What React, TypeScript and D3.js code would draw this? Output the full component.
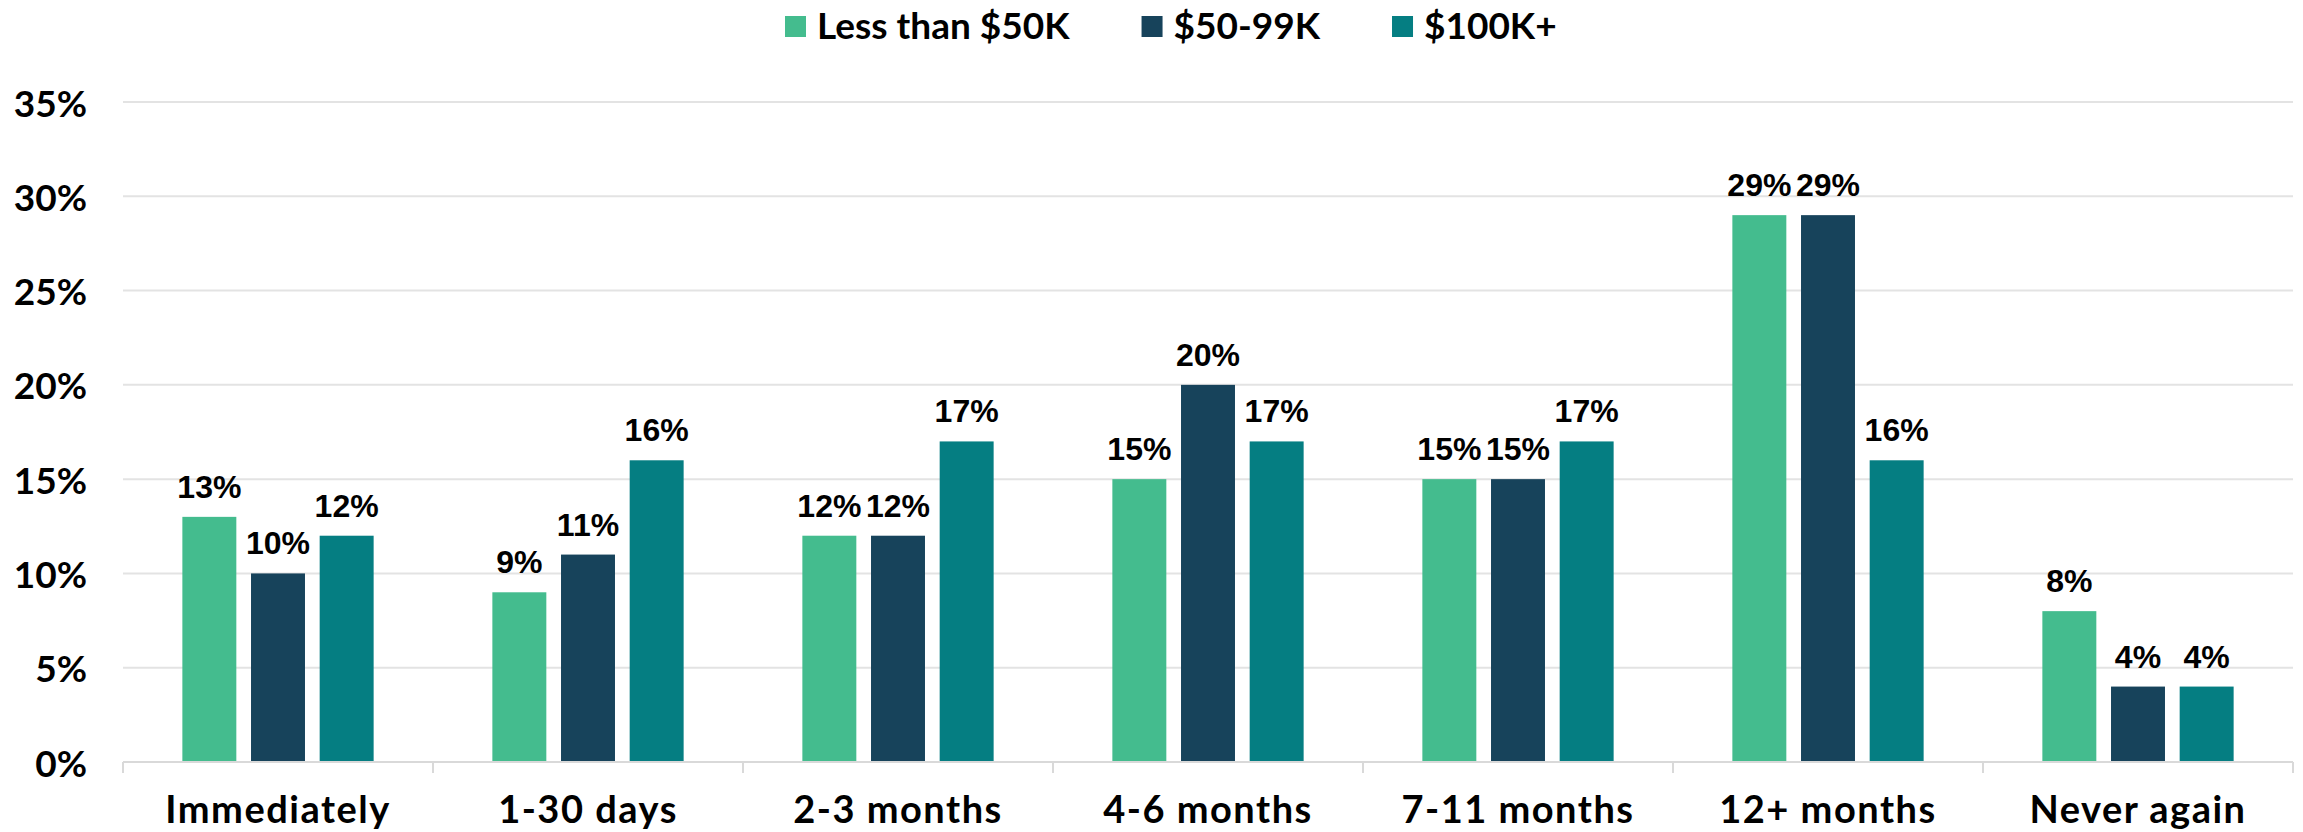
import React, { useRef, useEffect } from 'react';
import * as d3 from 'd3';

const categories = ['Immediately', '1-30 days', '2-3 months', '4-6 months', '7-11 months', '12+ months', 'Never again'];
const seriesNames = ['Less than $50K', '$50-99K', '$100K+'];
const seriesColors = ['#44BC8E', '#17435B', '#057E82'];
const under50 = [13, 9, 12, 15, 15, 29, 8];
const from50to99 = [10, 11, 12, 20, 15, 29, 4];
const over100 = [12, 16, 17, 17, 17, 16, 4];
const yTicks = [0, 5, 10, 15, 20, 25, 30, 35];

const WIDTH = 2303;
const HEIGHT = 832;
const AXIS_FONT = 'Lato, "DejaVu Sans", sans-serif';
const LABEL_FONT = '"Liberation Sans", Arial, sans-serif';

const App = () => {
  const svgRef = useRef(null);
  const margin = { top: 102, right: 10, bottom: 70, left: 123 };

  useEffect(() => {
    document.body.style.margin = '0';
    const svg = d3.select(svgRef.current);
    svg.selectAll('*').remove();

    const values = [under50, from50to99, over100];
    const rows = categories.map((c, i) => ({
      category: c,
      vals: seriesNames.map((s, j) => ({ series: s, value: values[j][i], color: seriesColors[j] }))
    }));

    const x0 = d3.scaleBand()
      .domain(categories)
      .range([margin.left, WIDTH - margin.right]);

    const groupWidth = x0.bandwidth() * 0.617;
    const x1 = d3.scaleBand()
      .domain(seriesNames)
      .range([0, groupWidth])
      .paddingInner(0.214);

    const y = d3.scaleLinear()
      .domain([0, 35])
      .range([HEIGHT - margin.bottom, margin.top]);

    // grid lines
    svg.selectAll('line.grid')
      .data(yTicks.filter(d => d > 0))
      .join('line')
      .attr('class', 'grid')
      .attr('x1', margin.left)
      .attr('x2', WIDTH - margin.right)
      .attr('y1', d => y(d))
      .attr('y2', d => y(d))
      .attr('stroke', '#e3e3e3')
      .attr('stroke-width', 2);

    // y tick labels
    svg.selectAll('text.ytick')
      .data(yTicks)
      .join('text')
      .attr('class', 'ytick')
      .attr('x', 87)
      .attr('y', d => y(d))
      .attr('text-anchor', 'end')
      .attr('dominant-baseline', 'central')
      .attr('font-family', AXIS_FONT)
      .attr('font-weight', 'bold')
      .attr('font-size', '37px')
      .attr('fill', '#000')
      .text(d => `${d}%`);

    // bars
    const groups = svg.selectAll('g.group')
      .data(rows)
      .join('g')
      .attr('class', 'group')
      .attr('transform', d => `translate(${x0(d.category) + (x0.bandwidth() - groupWidth) / 2},0)`);

    groups.selectAll('rect')
      .data(d => d.vals)
      .join('rect')
      .attr('x', d => x1(d.series))
      .attr('y', d => y(d.value))
      .attr('width', x1.bandwidth())
      .attr('height', d => y(0) - y(d.value))
      .attr('fill', d => d.color);

    groups.selectAll('text')
      .data(d => d.vals)
      .join('text')
      .attr('x', d => x1(d.series) + x1.bandwidth() / 2)
      .attr('y', d => y(d.value) - 19)
      .attr('text-anchor', 'middle')
      .attr('font-family', LABEL_FONT)
      .attr('font-weight', 'bold')
      .attr('font-size', '32px')
      .attr('fill', '#000')
      .text(d => `${d.value}%`);

    // x axis
    svg.append('line')
      .attr('x1', margin.left)
      .attr('x2', WIDTH - margin.right)
      .attr('y1', y(0))
      .attr('y2', y(0))
      .attr('stroke', '#d9d9d9')
      .attr('stroke-width', 2);

    const boundaries = categories.map(c => x0(c)).concat([x0.range()[1]]);
    svg.selectAll('line.xtick')
      .data(boundaries)
      .join('line')
      .attr('class', 'xtick')
      .attr('x1', d => d)
      .attr('x2', d => d)
      .attr('y1', y(0))
      .attr('y2', y(0) + 11)
      .attr('stroke', '#d9d9d9')
      .attr('stroke-width', 2);

    svg.selectAll('text.xlabel')
      .data(categories)
      .join('text')
      .attr('class', 'xlabel')
      .attr('x', d => x0(d) + x0.bandwidth() / 2)
      .attr('y', 823)
      .attr('text-anchor', 'middle')
      .attr('font-family', AXIS_FONT)
      .attr('font-weight', 'bold')
      .attr('font-size', '38px')
      .attr('letter-spacing', '1.5px')
      .attr('fill', '#000')
      .text(d => d);

    // legend
    const legend = svg.append('g').attr('class', 'legend');
    let lx = 785;
    seriesNames.forEach((name, i) => {
      legend.append('rect')
        .attr('x', lx)
        .attr('y', 16)
        .attr('width', 21)
        .attr('height', 21)
        .attr('fill', seriesColors[i]);
      const t = legend.append('text')
        .attr('x', lx + 32)
        .attr('y', 39)
        .attr('font-family', AXIS_FONT)
        .attr('font-weight', 'bold')
        .attr('font-size', '37px')
        .attr('fill', '#000')
        .text(name);
      const w = t.node().getComputedTextLength();
      lx = lx + 32 + w + 72;
    });
  }, []);

  return (
    <div style={{ position: 'absolute', left: 0, top: 0, background: '#fff' }}>
      <svg ref={svgRef} width={WIDTH} height={HEIGHT} style={{ display: 'block' }} />
    </div>
  );
};

export default App;
